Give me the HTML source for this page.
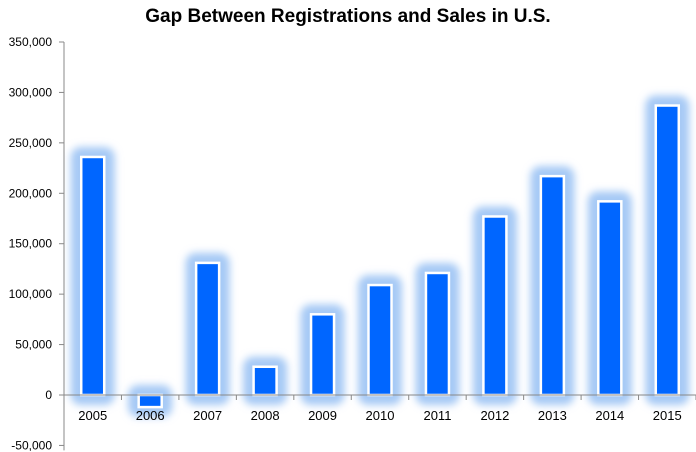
<!DOCTYPE html>
<html><head><meta charset="utf-8"><style>
body{margin:0;background:#fff;}
svg{display:block;font-family:"Liberation Sans",sans-serif;}
</style></head><body>
<svg id="chart" width="696" height="452">
<defs><filter id="glow" x="-50%" y="-50%" width="200%" height="200%"><feGaussianBlur stdDeviation="4"/></filter></defs>
<text x="348" y="22" text-anchor="middle" font-size="19" font-weight="bold" fill="#000">Gap Between Registrations and Sales in U.S.</text>
<g id="grid"></g><g id="bars"></g><g id="axes"></g>
</svg>
<script>
const categories=["2005","2006","2007","2008","2009","2010","2011","2012","2013","2014","2015"];
const values=[236000,-12000,131000,28000,80000,109000,121000,177000,217000,192000,287000];
const yTicks=[-50000,0,50000,100000,150000,200000,250000,300000,350000];
const NS="http://www.w3.org/2000/svg";
const x0=64,x1=696,yZero=395,pxPer=353/350000;
const bw=(x1-x0)/categories.length;
function y(v){return yZero-v*pxPer;}
function mk(t,a,p){const e=document.createElementNS(NS,t);for(const k in a)e.setAttribute(k,a[k]);p.appendChild(e);return e;}
const axes=document.getElementById('axes'),bars=document.getElementById('bars');
mk('line',{x1:x0,y1:y(350000),x2:x0,y2:y(-50000)+5,stroke:'#888'},axes);
yTicks.forEach(t=>{
 mk('line',{x1:x0-5,y1:y(t),x2:x0,y2:y(t),stroke:'#888'},axes);
 const tx=mk('text',{x:x0-12,y:y(t)+4,'text-anchor':'end','font-size':12,fill:'#000'},axes);
 tx.textContent=t.toLocaleString('en-US');
 
 
});
categories.forEach((c,i)=>{
 const cx=x0+bw*(i+0.5);
 const v=values[i],top=Math.min(y(v),yZero),h=Math.abs(y(v)-yZero);
 mk('rect',{x:cx-22,y:top-10,width:44,height:h+20,rx:10,fill:'#a6c9f5',filter:'url(#glow)'},bars);
 const r=mk('rect',{x:cx-11.5,y:top,width:23,height:h,fill:'#0066ff',stroke:'#fff','stroke-width':2.5},bars);
 
 
});
mk('line',{x1:x0,y1:yZero,x2:x1,y2:yZero,stroke:'#888'},axes);
categories.forEach((c,i)=>{
 const cx=x0+bw*(i+0.5);
 mk('line',{x1:x0+bw*(i+1),y1:yZero,x2:x0+bw*(i+1),y2:yZero+5,stroke:'#888'},axes);
 const tx=mk('text',{x:cx,y:yZero+25,'text-anchor':'middle','font-size':13,fill:'#000'},axes);
 tx.textContent=c;
 
 
});
</script>
</body></html>
